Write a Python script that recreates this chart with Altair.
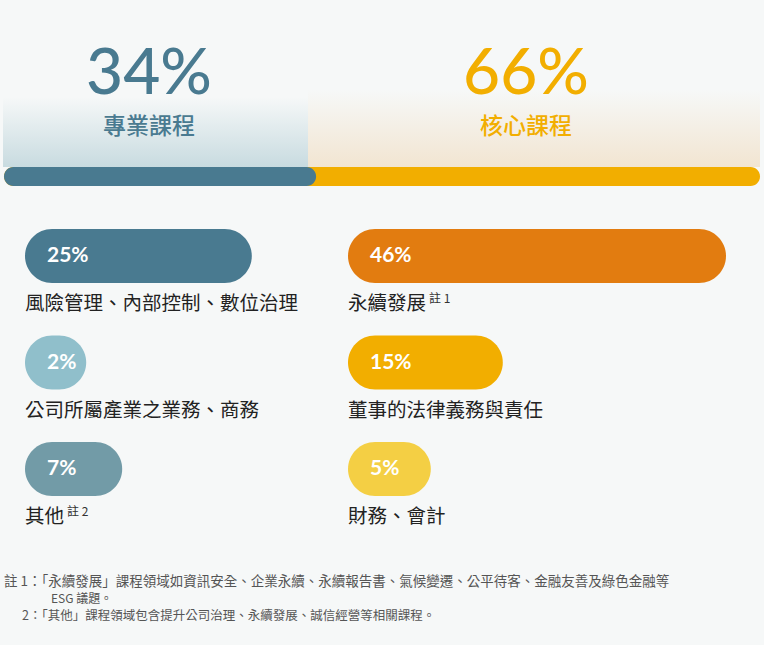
import altair as alt
import pandas as pd

BG = "#f6f8f8"

# ---- data ----
top_cats = ["專業課程", "核心課程"]
top_vals = [34, 66]
top_colors = ["#497a90", "#f2ae00"]

bar_labels = ["風險管理、內部控制、數位治理", "公司所屬產業之業務、商務", "其他",
              "永續發展", "董事的法律義務與責任", "財務、會計"]
bar_vals = [25, 2, 7, 46, 15, 5]
bar_cols = [0, 0, 0, 1, 1, 1]
bar_rows = [0, 1, 2, 0, 1, 2]
bar_colors = ["#497a90", "#90bfcb", "#729ba7", "#e27c10", "#f2ae00", "#f4cf44"]
bar_notes = ["", "", "註 2", "註 1", "", ""]

footnote_lines = [
    "註 1：「永續發展」課程領域如資訊安全、企業永續、永續報告書、氣候變遷、公平待客、金融友善及綠色金融等",
    "ESG 議題。",
    "2：「其他」課程領域包含提升公司治理、永續發展、誠信經營等相關課程。",
]

# ---- tables ----
cum = []
s = 0
for v in top_vals:
    s += v
    cum.append(s)
top_df = pd.DataFrame({"cat": top_cats, "value": top_vals, "end": cum, "color": top_colors})
top_df["pct"] = top_df["value"].astype(str) + "%"

bars_df = pd.DataFrame({"label": bar_labels, "value": bar_vals, "col": bar_cols,
                        "row": bar_rows, "color": bar_colors, "note": bar_notes})
bars_df["pct"] = bars_df["value"].astype(str) + "%"

CJK = "Noto Sans CJK TC"
NUMF = "Lato"

# ---- gradient panels ----
def panel(x0, x1, y0, y1, c):
    grad = alt.Gradient(gradient="linear", x1=0, x2=0, y1=0, y2=1,
                        stops=[alt.GradientStop(color=BG, offset=0),
                               alt.GradientStop(color=c, offset=1)])
    return alt.Chart(alt.Data(values=[{"a": 1}])).mark_rect(color=grad).encode(
        x=alt.value(x0), x2=alt.value(x1), y=alt.value(y0), y2=alt.value(y1))

left_panel = panel(3, 308, 97, 167, "#c8dbe0")
right_panel = panel(308, 760, 90, 167, "#f2e5d1")

# ---- top split bar ----
top_scale = alt.Scale(domain=[-12.4, 100], range=[4, 760], padding=0, nice=False, zero=False)
top_base = alt.Chart(top_df).transform_calculate(lo="-12.4")
top_layers = []
for cat in reversed(top_cats):
    top_layers.append(
        top_base.transform_filter(alt.datum.cat == cat).transform_calculate(
            end_x="datum.cat == '專業課程' ? datum.value : datum.end"
        ).mark_rect(cornerRadius=9.5).encode(
            x=alt.X("lo:Q", scale=top_scale, axis=None),
            x2="end_x:Q",
            y=alt.value(167), y2=alt.value(186),
            color=alt.Color("color:N", scale=None),
        )
    )

cat_x = alt.X("cat:N", scale=alt.Scale(type="point", domain=top_cats, range=[149, 526], padding=0), axis=None)
big_nums = alt.Chart(top_df).mark_text(font=NUMF, fontSize=64, fontWeight=500,
                                       align="center", baseline="alphabetic").encode(
    x=cat_x, y=alt.value(94), text="pct:N", color=alt.Color("color:N", scale=None))
big_labels = alt.Chart(top_df).mark_text(font=CJK, fontSize=23, fontWeight=500,
                                         align="center", baseline="middle").encode(
    x=cat_x, y=alt.value(127), text="cat:N", color=alt.Color("color:N", scale=None))

# ---- detail bars ----
PX = 7.2
CAP = 6.5
LABEL_FS = 19.5
row_scale = alt.Scale(domain=[0, 2], range=[256, 469], padding=0, nice=False, zero=False)
col_starts = [25, 348]

detail_layers = []
for ci, start in enumerate(col_starts):
    xs = alt.Scale(domain=[-CAP, 60], range=[start, start + (60 + CAP) * PX],
                   padding=0, nice=False, zero=False)
    b = alt.Chart(bars_df).transform_filter(alt.datum.col == ci).transform_calculate(base=str(-CAP))
    y = alt.Y("row:Q", scale=row_scale, axis=None)
    detail_layers.append(
        b.mark_bar(orient="horizontal", size=54, cornerRadius=27).encode(
            x=alt.X("base:Q", scale=xs, axis=None), x2="value:Q", y=y,
            color=alt.Color("color:N", scale=None)))
    detail_layers.append(
        b.mark_text(font=NUMF, fontSize=21, fontWeight="bold", color="white",
                    align="left", baseline="middle", dx=22).encode(
            x=alt.X("base:Q", scale=xs, axis=None), y=y, text="pct:N"))
    detail_layers.append(
        b.mark_text(font=CJK, fontSize=LABEL_FS, fontWeight=400, color="#222222",
                    align="left", baseline="middle", dy=48).encode(
            x=alt.X("base:Q", scale=xs, axis=None), y=y, text="label:N"))
    detail_layers.append(
        b.transform_filter(alt.datum.note != "").transform_calculate(
            sx="datum.base + (length(datum.label) * %s + 3) / %s" % (LABEL_FS, PX)
        ).mark_text(font=CJK, fontSize=12, color="#333333",
                    align="left", baseline="middle", dy=43).encode(
            x=alt.X("sx:Q", scale=xs, axis=None), y=y, text="note:N"))

# ---- footnotes ----
fn_pos = [(4, 582, 13.5), (51, 599, 12), (22, 616, 12.5)]
fn_layers = []
for line, (fx, fy, fs) in zip(footnote_lines, fn_pos):
    fn_layers.append(
        alt.Chart(alt.Data(values=[{"t": line}])).mark_text(
            font=CJK, fontSize=fs, color="#555555", align="left", baseline="middle").encode(
            x=alt.value(fx), y=alt.value(fy), text="t:N"))

chart = alt.layer(
    left_panel, right_panel, *top_layers, big_nums, big_labels, *detail_layers, *fn_layers
).resolve_scale(x="independent", y="independent", color="independent").properties(
    width=764, height=645, background=BG, padding=0,
    autosize=alt.AutoSizeParams(type="none"),
).configure_view(stroke=None)

chart.save("out.html", embed_options={"renderer": "svg", "actions": False})
